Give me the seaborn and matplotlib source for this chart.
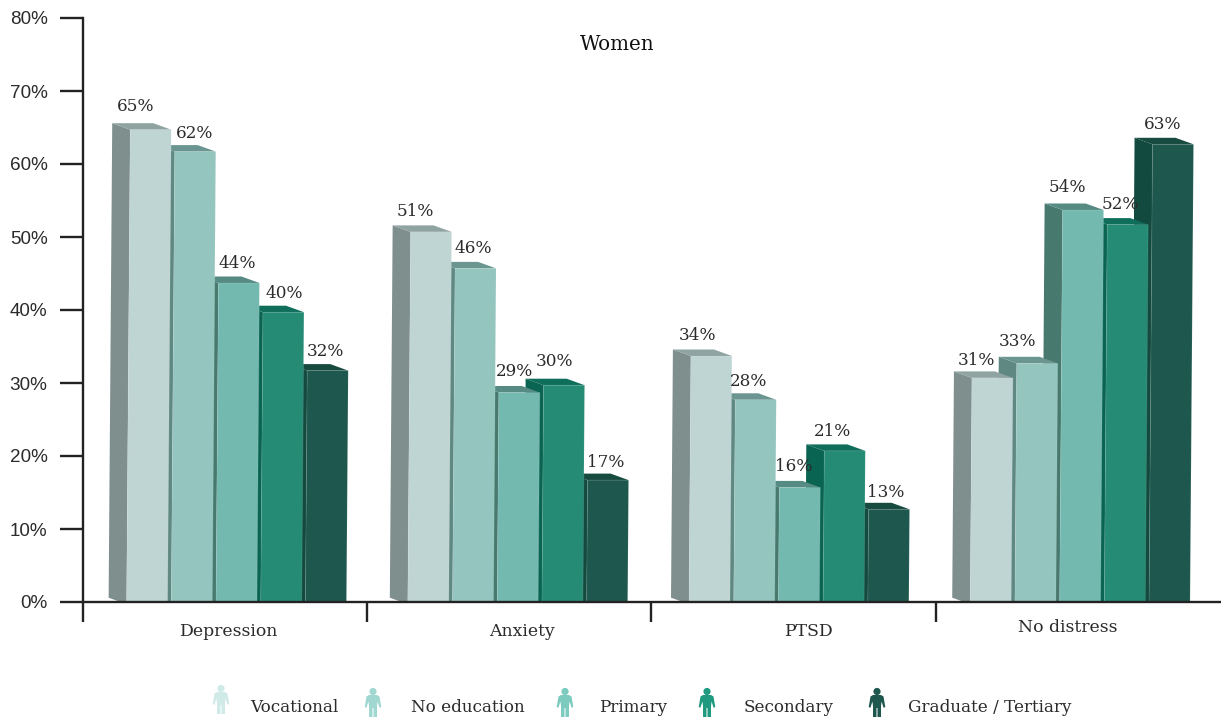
import matplotlib
matplotlib.use("Agg")
import matplotlib.pyplot as plt
import pandas as pd
import seaborn as sns
from matplotlib.patches import Circle, Polygon
from matplotlib.ticker import FixedLocator, FuncFormatter, NullFormatter
from matplotlib.transforms import Affine2D

# Share of women reporting each outcome, by education level (percent)
conditions = ["Depression", "Anxiety", "PTSD", "No distress"]
education = ["Vocational", "No education", "Primary", "Secondary", "Graduate / Tertiary"]
vocational = [65, 51, 34, 31]
no_education = [62, 46, 28, 33]
primary = [44, 29, 16, 54]
secondary = [40, 30, 21, 52]
tertiary = [32, 17, 13, 63]

front_colors = ["#BFD5D3", "#94C5BE", "#74B9AF", "#258B74", "#1E574D"]
side_colors = ["#7E8F8D", "#5F8882", "#47796F", "#0A6452", "#124A3F"]
top_colors = ["#8FA3A1", "#6B9590", "#558B82", "#0F6E5A", "#174B40"]
icon_colors = ["#CFEAE7", "#A0D8D1", "#7CCBBE", "#1F9A80", "#1E574D"]
text_color = "#2B2B2B"
rule_color = "#222222"
slab = "DejaVu Serif"
sans = "Liberation Sans"

# Value-label nudges in pixels, per education level then per condition
label_dx = [[-15.5, -16, -14, -16], [-1, -2, -7.5, -19.5], [-2, -5, -6, -15.5],
            [1, -10, -12.5, -7], [-2, -2, -3, -10]]
label_dy = [[-23, -20, -20, -17], [-18, -20, -18, -22], [-20, -21, -21, -22],
            [-19, -24, -19, -20], [-19, -18, -17, -20]]

W, H = 1221, 722
sns.set_theme(style="white")
fig = plt.figure(figsize=(W / 100, H / 100), dpi=100, facecolor="white")
px = Affine2D().scale(1 / W, -1 / H).translate(0, 1) + fig.transFigure

left, right, base, top = 83, 1221, 602, 18
ax = fig.add_axes([left / W, 1 - base / H, (right - left) / W, (base - top) / H])

frame = pd.DataFrame({"condition": conditions, "Vocational": vocational,
                      "No education": no_education, "Primary": primary,
                      "Secondary": secondary, "Graduate / Tertiary": tertiary})
long = frame.melt(id_vars="condition", var_name="education", value_name="share")
sns.barplot(data=long, x="condition", y="share", hue="education", hue_order=education,
            order=conditions, palette=front_colors, width=0.795, gap=0.083, saturation=1,
            legend=False, ax=ax)

group_px = 281.2
first_center = 236.5
ax.set_xlim((left - first_center) / group_px, (right - first_center) / group_px)
ax.set_ylim(0, 80)

# Slight upward lean and a small drop of the whole block below its nominal level
lean = 0.0076
drop = 2.2
y0_display = H - base
block = (ax.transData
         + Affine2D.from_values(1, 0, lean, 1, -lean * y0_display, -drop))
depth_x = 18 / group_px
depth_y = 6.5 / ((base - top) / 80)

for level, container in enumerate(ax.containers):
    order = 30 - 3 * level
    for col, bar in enumerate(container.patches):
        x0, x1 = bar.get_x(), bar.get_x() + bar.get_width()
        h = bar.get_height()
        bar.set_transform(block)
        bar.set_zorder(order)
        bar.set_edgecolor((1, 1, 1, 0.12))
        bar.set_linewidth(0.6)
        ax.add_patch(Polygon([(x0, 0), (x0 - depth_x, depth_y), (x0 - depth_x, h + depth_y), (x0, h)],
                             closed=True, transform=block, facecolor=side_colors[level],
                             edgecolor="none", zorder=order - 1))
        ax.add_patch(Polygon([(x0, h), (x0 - depth_x, h + depth_y), (x1 - depth_x, h + depth_y), (x1, h)],
                             closed=True, transform=block, facecolor=top_colors[level],
                             edgecolor="none", zorder=order - 1))
        # value label, placed in pixels relative to the bar's top centre
        cx, cy = block.transform(((x0 + x1) / 2, h))
        ax.annotate(f"{h:.0f}%", xy=(cx, cy), xycoords="figure pixels",
                    xytext=(label_dx[level][col] * 0.72, -label_dy[level][col] * 0.72),
                    textcoords="offset points", ha="center", va="center",
                    fontsize=12.2, family=slab, color=text_color, zorder=50, annotation_clip=False)

# Axes: left and bottom rules with long outward ticks
sns.despine(ax=ax, top=True, right=True)
for side in ("left", "bottom"):
    ax.spines[side].set_linewidth(1.7)
    ax.spines[side].set_color(rule_color)
    ax.spines[side].set_zorder(60)
ax.yaxis.set_major_locator(FixedLocator(range(0, 81, 10)))
ax.yaxis.set_major_formatter(FuncFormatter(lambda v, _: f"{v:.0f}%"))
ax.tick_params(axis="y", length=16.5, width=1.7, color=rule_color, labelsize=13.6, pad=9,
               labelcolor=text_color, left=True, labelfontfamily=sans)
boundaries = [(p - first_center) / group_px for p in (83, 367, 651, 936)]
ax.xaxis.set_major_locator(FixedLocator(boundaries))
ax.xaxis.set_major_formatter(NullFormatter())
ax.tick_params(axis="x", length=14.5, width=1.7, color=rule_color, bottom=True)
ax.set_xlabel("")
ax.set_ylabel("")
ax.grid(False)

fig.text(617 / W, 1 - 45 / H, "Women", ha="center", va="center", fontsize=14.3,
         family=slab, color="#111111")

for name, x, y in zip(conditions, (228, 522, 808, 1068), (631, 631, 631, 627)):
    fig.text(x / W, 1 - y / H, name, ha="center", va="center", fontsize=12.4,
             family=slab, color=text_color)


# Legend built from small figure icons, one per education level
def person(cx, cy, color):
    outline = [(-4, -8), (4, -8), (6.5, -6.5), (8.3, 4), (6.6, 4.8), (4.6, -1.5), (4, 3),
               (4, 14), (0.5, 14), (0.5, 5), (-0.5, 5), (-0.5, 14), (-4, 14), (-4, 3),
               (-4.6, -1.5), (-6.6, 4.8), (-8.3, 4), (-6.5, -6.5)]
    verts = [(cx + a, cy + b) for a, b in outline]
    fig.add_artist(Polygon(verts, closed=True, transform=px, facecolor=color, edgecolor="none"))
    fig.add_artist(Circle((cx, cy - 11.5), 3.6, transform=px, facecolor=color, edgecolor="none"))


icon_x = (221, 373, 565, 707, 877)
icon_y = (700, 703, 703, 703, 703)
text_x = (250, 411, 599, 744, 908)
for name, color, ix, iy, tx in zip(education, icon_colors, icon_x, icon_y, text_x):
    person(ix, iy, color)
    fig.text(tx / W, 1 - 707 / H, name, ha="left", va="center", fontsize=12.1,
             family=slab, color=text_color)

fig.savefig("out.png", dpi=100, facecolor="white")
